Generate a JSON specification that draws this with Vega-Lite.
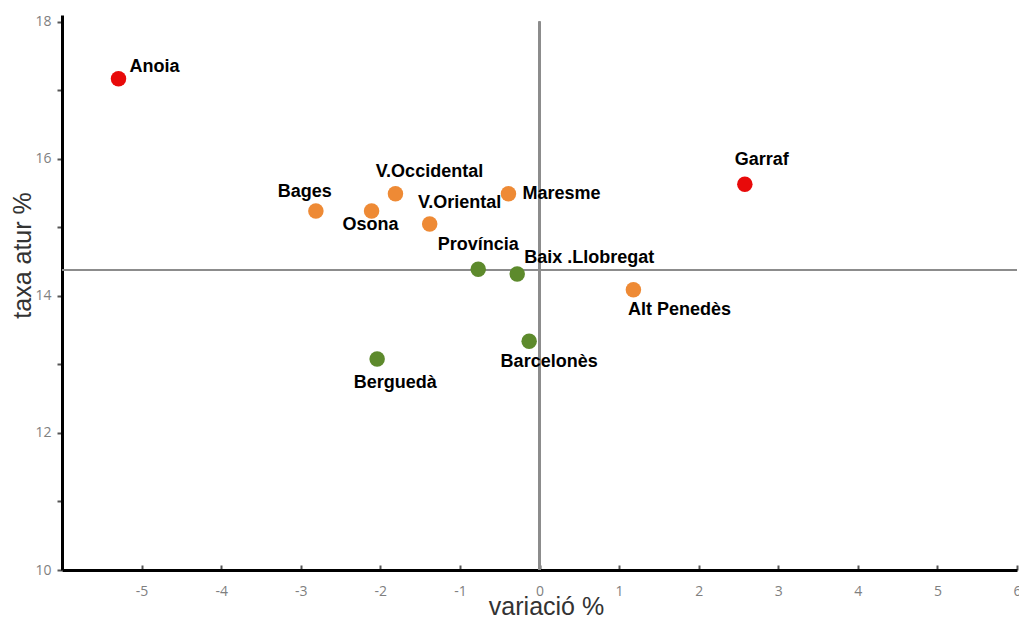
{
  "$schema": "https://vega.github.io/schema/vega-lite/v6.json",
  "autosize": {"type": "none"},
  "width": 955,
  "height": 555,
  "padding": {"left": 62, "top": 15, "right": 2, "bottom": 49},
  "background": "white",
  "config": {"view": {"stroke": null}},
  "data": {"values": [
    {"comarca": "Anoia", "variacio": -5.29, "taxa": 17.17, "grup": "alt"},
    {"comarca": "Garraf", "variacio": 2.58, "taxa": 15.63, "grup": "alt"},
    {"comarca": "Bages", "variacio": -2.81, "taxa": 15.24, "grup": "mitja"},
    {"comarca": "V.Occidental", "variacio": -1.81, "taxa": 15.49, "grup": "mitja"},
    {"comarca": "Osona", "variacio": -2.11, "taxa": 15.24, "grup": "mitja"},
    {"comarca": "V.Oriental", "variacio": -1.38, "taxa": 15.05, "grup": "mitja"},
    {"comarca": "Maresme", "variacio": -0.39, "taxa": 15.49, "grup": "mitja"},
    {"comarca": "Província", "variacio": -0.77, "taxa": 14.39, "grup": "baix"},
    {"comarca": "Baix .Llobregat", "variacio": -0.28, "taxa": 14.32, "grup": "baix"},
    {"comarca": "Alt Penedès", "variacio": 1.18, "taxa": 14.09, "grup": "mitja"},
    {"comarca": "Barcelonès", "variacio": -0.13, "taxa": 13.34, "grup": "baix"},
    {"comarca": "Berguedà", "variacio": -2.04, "taxa": 13.08, "grup": "baix"}
  ]},
  "encoding": {
    "x": {"field": "variacio", "type": "quantitative",
      "scale": {"domain": [-6, 6], "nice": false, "zero": false},
      "axis": {"title": "variació %", "values": [-5, -4, -3, -2, -1, 0, 1, 2, 3, 4, 5, 6],
        "labelExpr": "replace(datum.label, '−', '-')",
        "grid": false, "domainColor": "black", "domainWidth": 3,
        "tickColor": "#555555", "tickSize": -5, "tickWidth": 2,
        "labelPadding": 19, "labelColor": "#7f7f7f", "labelFontSize": 14, "labelFont": "Open Sans",
        "labelFlush": false, "labelBound": false,
        "titleFont": "Liberation Sans", "titleFontSize": 25, "titleFontWeight": "normal", "titleColor": "#333333", "titlePadding": -4, "titleX": 484}},
    "y": {"field": "taxa", "type": "quantitative",
      "scale": {"domain": [10, 18.1], "nice": false, "zero": false},
      "axis": {"title": "taxa atur %", "values": [10, 11, 12, 13, 14, 15, 16, 17, 18],
        "labelExpr": "datum.value % 2 == 0 ? datum.label : ''",
        "grid": false, "domainColor": "black", "domainWidth": 3,
        "tickColor": "#555555", "tickSize": 5, "tickWidth": 2,
        "labelPadding": 6, "labelColor": "#7f7f7f", "labelFontSize": 14, "labelFont": "Open Sans",
        "labelFlush": false,
        "titleFont": "Liberation Sans", "titleFontSize": 25, "titleFontWeight": "normal", "titleColor": "#333333", "titlePadding": -1, "titleY": 240}}
  },
  "layer": [
    {"mark": {"type": "rule", "color": "#8c8c8c", "strokeWidth": 2}, "encoding": {"x": {"datum": 0}, "y": {"datum": 18}, "y2": {"datum": 10}}},
    {"mark": {"type": "rule", "color": "#8c8c8c", "strokeWidth": 2}, "encoding": {"y": {"datum": 14.38}, "x": {"datum": -6}, "x2": {"datum": 6}}},
    {"mark": {"type": "point", "filled": true, "shape": "circle", "size": 240, "opacity": 1, "strokeWidth": 1},
      "encoding": {"color": {"field": "grup", "type": "nominal", "legend": null,
        "scale": {"domain": ["alt", "mitja", "baix"], "range": ["#e80a0a", "#ee8a35", "#5d8a2c"]}}}},
    {"transform": [{"filter": "datum.comarca == 'Anoia'"}], "mark": {"type": "text", "align": "left", "dx": 11, "dy": -12, "font": "Liberation Sans", "fontWeight": "bold", "fontSize": 18, "color": "black"}, "encoding": {"text": {"field": "comarca"}}},
    {"transform": [{"filter": "datum.comarca == 'Garraf'"}], "mark": {"type": "text", "dx": 17, "dy": -24, "font": "Liberation Sans", "fontWeight": "bold", "fontSize": 18, "color": "black"}, "encoding": {"text": {"field": "comarca"}}},
    {"transform": [{"filter": "datum.comarca == 'Bages'"}], "mark": {"type": "text", "dx": -11, "dy": -19, "font": "Liberation Sans", "fontWeight": "bold", "fontSize": 18, "color": "black"}, "encoding": {"text": {"field": "comarca"}}},
    {"transform": [{"filter": "datum.comarca == 'V.Occidental'"}], "mark": {"type": "text", "dx": 34, "dy": -22, "font": "Liberation Sans", "fontWeight": "bold", "fontSize": 18, "color": "black"}, "encoding": {"text": {"field": "comarca"}}},
    {"transform": [{"filter": "datum.comarca == 'Osona'"}], "mark": {"type": "text", "dx": -1, "dy": 14, "font": "Liberation Sans", "fontWeight": "bold", "fontSize": 18, "color": "black"}, "encoding": {"text": {"field": "comarca"}}},
    {"transform": [{"filter": "datum.comarca == 'V.Oriental'"}], "mark": {"type": "text", "dx": 30, "dy": -21, "font": "Liberation Sans", "fontWeight": "bold", "fontSize": 18, "color": "black"}, "encoding": {"text": {"field": "comarca"}}},
    {"transform": [{"filter": "datum.comarca == 'Maresme'"}], "mark": {"type": "text", "align": "left", "dx": 14, "dy": 0, "font": "Liberation Sans", "fontWeight": "bold", "fontSize": 18, "color": "black"}, "encoding": {"text": {"field": "comarca"}}},
    {"transform": [{"filter": "datum.comarca == 'Província'"}], "mark": {"type": "text", "dx": 0, "dy": -24, "font": "Liberation Sans", "fontWeight": "bold", "fontSize": 18, "color": "black"}, "encoding": {"text": {"field": "comarca"}}},
    {"transform": [{"filter": "datum.comarca == 'Baix .Llobregat'"}], "mark": {"type": "text", "dx": 72, "dy": -16, "font": "Liberation Sans", "fontWeight": "bold", "fontSize": 18, "color": "black"}, "encoding": {"text": {"field": "comarca"}}},
    {"transform": [{"filter": "datum.comarca == 'Alt Penedès'"}], "mark": {"type": "text", "dx": 46, "dy": 20, "font": "Liberation Sans", "fontWeight": "bold", "fontSize": 18, "color": "black"}, "encoding": {"text": {"field": "comarca"}}},
    {"transform": [{"filter": "datum.comarca == 'Barcelonès'"}], "mark": {"type": "text", "dx": 20, "dy": 21, "font": "Liberation Sans", "fontWeight": "bold", "fontSize": 18, "color": "black"}, "encoding": {"text": {"field": "comarca"}}},
    {"transform": [{"filter": "datum.comarca == 'Berguedà'"}], "mark": {"type": "text", "dx": 18, "dy": 24, "font": "Liberation Sans", "fontWeight": "bold", "fontSize": 18, "color": "black"}, "encoding": {"text": {"field": "comarca"}}}
  ]
}
